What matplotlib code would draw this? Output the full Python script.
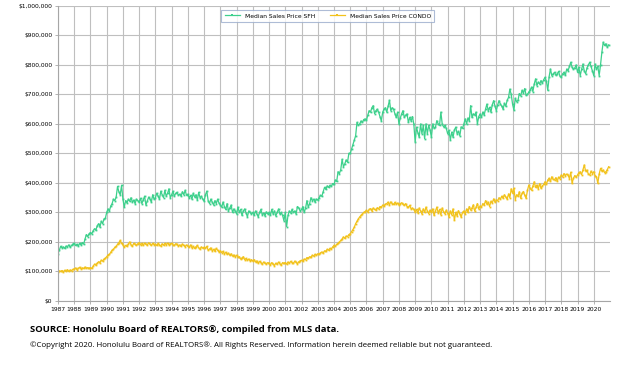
import matplotlib
matplotlib.use("Agg")
import matplotlib.pyplot as plt
import matplotlib.ticker as mticker
import numpy as np

# monthly median sales prices, Jan 1987 - Dec 2020, in $ thousands
years = list(range(1987, 2021))

sfh = [
    160, 172, 185, 180, 183, 178, 186, 184, 190, 182, 188, 193,  # 1987
    195, 188, 192, 186, 195, 190, 198, 193, 210, 225, 218, 228,  # 1988
    232, 228, 238, 245, 240, 255, 262, 250, 270, 262, 278, 280,  # 1989
    300, 312, 305, 322, 330, 345, 340, 352, 388, 370, 360, 392,  # 1990
    345, 318, 340, 332, 345, 338, 350, 335, 342, 330, 345, 340,  # 1991
    335, 348, 330, 342, 355, 325, 338, 352, 345, 335, 360, 345,  # 1992
    350, 365, 355, 345, 372, 360, 350, 375, 355, 365, 380, 350,  # 1993
    360, 372, 355, 365, 368, 358, 362, 355, 370, 360, 375, 358,  # 1994
    362, 350, 358, 345, 365, 352, 360, 342, 368, 350, 355, 345,  # 1995
    338, 360, 372, 340, 330, 345, 335, 325, 340, 330, 345, 332,  # 1996
    325, 318, 335, 320, 310, 330, 305, 315, 325, 300, 312, 305,  # 1997
    295, 318, 300, 310, 290, 305, 312, 298, 285, 305, 300, 295,  # 1998
    300, 290, 305, 295, 285, 300, 310, 292, 298, 288, 302, 295,  # 1999
    300, 290, 310, 295, 305, 288, 300, 312, 295, 300, 290, 272,  # 2000
    300, 252, 290, 305, 298, 310, 300, 305, 295, 320, 315, 305,  # 2001
    310, 320, 300, 315, 340, 318, 330, 350, 340, 345, 335, 345,  # 2002
    342, 350, 358, 355, 370, 385, 378, 390, 385, 392, 388, 398,  # 2003
    395, 410, 405, 438, 432, 445, 480, 455, 465, 478, 470, 500,  # 2004
    500, 515, 530, 545, 560, 605, 595, 600, 610, 605, 615, 617,  # 2005
    612, 630, 645, 640, 655, 662, 635, 645, 650, 640, 625, 610,  # 2006
    640, 650, 655, 640, 660, 680, 645, 655, 650, 635, 622, 640,  # 2007
    600, 620, 634, 645, 622, 630, 634, 605, 622, 610, 625, 600,  # 2008
    539, 589, 570, 555, 600, 567, 595, 550, 600, 567, 595, 580,  # 2009
    555, 600, 585, 589, 611, 600, 595, 640, 600, 590, 595, 585,  # 2010
    567, 578, 545, 572, 555, 580, 589, 567, 575, 560, 590, 585,  # 2011
    600, 617, 600, 620, 610, 662, 622, 634, 630, 640, 600, 625,  # 2012
    634, 622, 640, 630, 650, 667, 645, 656, 640, 665, 679, 660,  # 2013
    645, 665, 679, 667, 660, 650, 670, 660, 680, 690, 718, 700,  # 2014
    667, 647, 687, 675, 680, 703, 695, 714, 705, 720, 697, 700,  # 2015
    708, 715, 725, 710, 735, 753, 730, 742, 735, 747, 738, 750,  # 2016
    758, 745, 714, 760, 786, 764, 770, 775, 765, 770, 778, 762,  # 2017
    758, 770, 775, 765, 786, 780, 795, 809, 792, 785, 790, 800,  # 2018
    775, 792, 764, 785, 803, 780, 770, 790, 800, 809, 795, 780,  # 2019
    764, 803, 786, 795, 764, 800, 843, 877, 866, 872, 860, 868,  # 2020
]

condo = [
    98, 102, 100, 103, 99, 104, 101, 106, 100, 105, 103, 107,  # 1987
    108, 112, 106, 110, 114, 109, 112, 110, 115, 111, 113, 110,  # 1988
    113, 110, 118, 125, 122, 128, 133, 130, 138, 135, 142, 145,  # 1989
    150, 156, 158, 165, 172, 175, 182, 185, 192, 198, 205, 195,  # 1990
    190, 183, 188, 185, 193, 200, 190, 186, 195, 192, 188, 194,  # 1991
    198, 190, 195, 188, 196, 192, 190, 197, 193, 188, 195, 191,  # 1992
    192, 188, 195, 190, 186, 194, 189, 195, 191, 196, 190, 194,  # 1993
    195, 190, 188, 194, 192, 186, 190, 185, 193, 188, 184, 190,  # 1994
    186, 182, 190, 180, 185, 178, 184, 188, 180, 176, 183, 179,  # 1995
    182, 178, 185, 172, 176, 180, 170, 175, 168, 178, 172, 166,  # 1996
    170, 164, 168, 160, 165, 158, 162, 155, 160, 152, 156, 150,  # 1997
    155, 148, 150, 142, 146, 150, 140, 144, 138, 142, 136, 140,  # 1998
    135, 140, 132, 136, 128, 134, 130, 125, 132, 128, 126, 130,  # 1999
    128, 122, 130, 125, 120, 128, 124, 132, 126, 122, 130, 127,  # 2000
    130, 125, 132, 128, 134, 130, 127, 135, 131, 126, 133, 136,  # 2001
    138, 135, 142, 140, 147, 145, 150, 148, 155, 152, 158, 155,  # 2002
    160, 158, 163, 166, 162, 170, 168, 175, 172, 178, 176, 183,  # 2003
    188, 185, 192, 195, 200, 205, 210, 217, 212, 220, 218, 225,  # 2004
    228, 235, 242, 250, 262, 270, 278, 285, 290, 295, 300, 303,  # 2005
    307, 302, 310, 313, 305, 315, 310, 308, 316, 312, 320, 318,  # 2006
    325, 322, 328, 330, 335, 326, 336, 330, 327, 334, 329, 332,  # 2007
    325, 330, 333, 328, 324, 330, 320, 318, 324, 312, 315, 310,  # 2008
    301, 310, 298, 315, 305, 295, 312, 300, 318, 305, 296, 308,  # 2009
    300, 312, 290, 305, 318, 298, 310, 292, 315, 302, 296, 308,  # 2010
    298, 285, 305, 292, 312, 273, 300, 288, 306, 295, 284, 300,  # 2011
    305, 295, 312, 300, 320, 308, 315, 326, 305, 318, 330, 312,  # 2012
    322, 318, 330, 325, 340, 328, 335, 320, 338, 332, 346, 335,  # 2013
    342, 340, 350, 345, 355, 348, 360, 352, 345, 363, 350, 380,  # 2014
    365, 382, 343, 360, 355, 370, 348, 365, 371, 358, 348, 375,  # 2015
    393, 382, 375, 390, 404, 385, 393, 380, 398, 382, 390, 395,  # 2016
    404, 395, 410, 416, 405, 421, 412, 410, 418, 405, 420, 415,  # 2017
    427, 420, 432, 425, 430, 427, 415, 436, 399, 416, 425, 420,  # 2018
    427, 435, 438, 428, 445, 461, 440, 444, 430, 427, 440, 432,  # 2019
    438, 425, 421, 399, 430, 449, 440, 444, 435, 438, 445, 455,  # 2020
]

# decimal year for each month
t = np.array([y + m / 12.0 for y in years for m in range(12)])
sfh = np.array(sfh) * 1000
condo = np.array(condo) * 1000

green = '#3dd08c'
yellow = '#f2c21b'

fig = plt.figure(figsize=(6.4, 3.72), dpi=100)
ax = fig.add_axes([0.0906, 0.191, 0.8625, 0.793])

ax.plot(t, sfh, color=green, lw=0.9, marker='s', ms=1.3, mew=0,
        label='Median Sales Price SFH')
ax.plot(t, condo, color=yellow, lw=0.9, marker='s', ms=1.3, mew=0,
        label='Median Sales Price CONDO')

ax.set_xlim(1987, 2021)
ax.set_ylim(0, 1000000)
ax.set_xticks(years)
ax.set_xticklabels([str(y) for y in years])
ax.set_yticks(np.arange(0, 1000001, 100000))
ax.yaxis.set_major_formatter(mticker.FuncFormatter(lambda v, p: '${:,.0f}'.format(v)))
ax.tick_params(labelsize=4.3, length=2, width=0.6, color='#a6a6a6', pad=2)
ax.grid(True, color='#bfbfbf', lw=0.8)
ax.set_axisbelow(True)
for s in ['top', 'right']:
    ax.spines[s].set_visible(False)
for s in ['left', 'bottom']:
    ax.spines[s].set_color('#a6a6a6')
    ax.spines[s].set_linewidth(0.8)

leg = ax.legend(loc='center', bbox_to_anchor=(0.489, 0.966), ncol=2, fontsize=4.3,
                frameon=True, fancybox=False, handlelength=2.5, columnspacing=2.5,
                borderpad=0.6, markerscale=1.2)
leg.get_frame().set_edgecolor('#9aaccc')
leg.get_frame().set_linewidth(0.8)

fig.text(30 / 640, 1 - 329 / 372, 'SOURCE: Honolulu Board of REALTORS®, compiled from MLS data.',
         fontsize=6.8, fontweight='bold', family='Open Sans', va='center', ha='left')
fig.text(30 / 640, 1 - 345 / 372,
         '©Copyright 2020. Honolulu Board of REALTORS®. All Rights Reserved. Information herein deemed reliable but not guaranteed.',
         fontsize=5.7, family='Open Sans', va='center', ha='left')

fig.savefig('out.png', dpi=100)
